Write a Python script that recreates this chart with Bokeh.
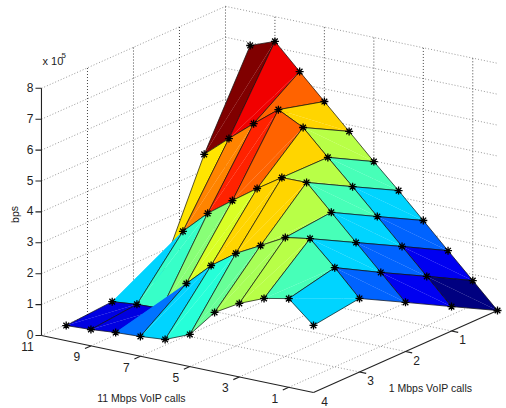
from bokeh.plotting import figure
from bokeh.models import Range1d, LinearColorMapper, ColumnDataSource
from bokeh.core.properties import value
from bokeh.transform import transform
from bokeh.embed import file_html
from bokeh.resources import INLINE

# ---- data (bps), rows = 1 Mbps calls 0..4, columns = 11 Mbps calls 0..10
CALLS_11 = [0, 1, 2, 3, 4, 5, 6, 7, 8, 9, 10]
CALLS_1 = [0, 1, 2, 3, 4]
BPS_1M_0 = [0, 80000, 160000, 241000, 321000, 398000, 479000, 559000, 639000, 720000, 690000]
BPS_1M_1 = [79000, 160000, 240000, 320000, 400000, 478000, 558000, 599000, 537000, 472000, 404000]
BPS_1M_2 = [159000, 239000, 319000, 400000, 480000, 479000, 427000, 371000, 313000, 238000, 62000]
BPS_1M_3 = [238000, 321000, 398000, 385000, 342000, 300000, 244000, 169000, 71000, 68000, 60000]
BPS_1M_4 = [217000, 287000, 271000, 238000, 192000, 104000, 71000, 64000, 60000, 53000, 49000]
BPS = [BPS_1M_0, BPS_1M_1, BPS_1M_2, BPS_1M_3, BPS_1M_4]

TICKS_11 = [11, 9, 7, 5, 3, 1]
TICKS_1 = [1, 2, 3, 4]
TICKS_Z = [0, 1, 2, 3, 4, 5, 6, 7, 8]
XLABEL = "11 Mbps VoIP calls"
YLABEL = "1 Mbps VoIP calls"
ZLABEL = "bps"

# vertices the surface folds over, so that they do not show
HIDDEN = {(10, 2), (8, 3)}


# ---- view: the fixed 3-D projection of the picture
def project(j, n, z):
    """(11 Mbps calls, 1 Mbps calls, units of 1e5 bps) -> plot coordinates"""
    return (497.0 - 24.73 * j - 46.0 * n,
            310.0 - 5.18 * j + 20.5 * n - 30.9 * z)


def jet(t):
    c = lambda v: int(round(255 * max(0.0, min(1.0, v))))
    return "#%02x%02x%02x" % (c(1.5 - abs(4 * t - 3)), c(1.5 - abs(4 * t - 2)), c(1.5 - abs(4 * t - 1)))


JET64 = [jet(i / 63) for i in range(64)]

p = figure(width=506, height=408, output_backend="svg", toolbar_location=None,
           x_range=Range1d(0, 506), y_range=Range1d(408, 0), min_border=0,
           background_fill_color="white", border_fill_color="white")
p.axis.visible = False
p.grid.visible = False
p.outline_line_color = None

DOT_SOFT = dict(line_color="#9a9a9a", line_width=1, line_dash="1 2")
DOT_DARK = dict(line_color="#444444", line_width=1, line_dash="1 2")


def seg(a, b):
    pa, pb = project(*a), project(*b)
    return [pa[0], pb[0]], [pa[1], pb[1]]


# ---- back walls and floor
xs, ys = [], []
for k in TICKS_Z:                       # levels round the two back walls
    a = seg((11, 4, k), (11, 0, k))
    b = seg((11, 0, k), (0, 0, k))
    xs += [a[0], b[0]]
    ys += [a[1], b[1]]
for n in [1, 2, 3]:                     # floor
    a = seg((0, n, 0), (11, n, 0))
    xs.append(a[0]); ys.append(a[1])
for j in [1, 3, 5, 7, 9]:
    a = seg((j, 4, 0), (j, 0, 0))
    xs.append(a[0]); ys.append(a[1])
p.multi_line(xs, ys, **DOT_SOFT)

xs, ys = [], []
for n in [0, 1, 2, 3]:                  # uprights
    a = seg((11, n, 0), (11, n, 8))
    xs.append(a[0]); ys.append(a[1])
for j in [1, 3, 5, 7, 9]:
    a = seg((j, 0, 0), (j, 0, 8))
    xs.append(a[0]); ys.append(a[1])
p.multi_line(xs, ys, **DOT_DARK)

# ---- axes
xs, ys = [], []
for a, b in [((11, 4, 0), (11, 4, 8)), ((11, 4, 0), (0, 4, 0)), ((0, 4, 0), (0, 0, 0))]:
    s = seg(a, b)
    xs.append(s[0]); ys.append(s[1])
for k in TICKS_Z:
    x, y = project(11, 4, k)
    xs.append([x - 6, x]); ys.append([y, y])
for j in TICKS_11[1:]:
    s = seg((j, 4, 0), (j, 4.13, 0))
    xs.append(s[0]); ys.append(s[1])
for n in TICKS_1[:-1]:
    s = seg((0, n, 0), (-0.27, n, 0))
    xs.append(s[0]); ys.append(s[1])
p.multi_line(xs, ys, line_color="#222222", line_width=1.1)

# ---- surface: back cells first, each split along the same diagonal
mapper = LinearColorMapper(palette=JET64, low=0, high=max(max(r) for r in BPS))


def vertex(j, n):
    return project(CALLS_11[j], CALLS_1[n], BPS[n][j] / 1e5)


for n in range(len(CALLS_1) - 1):
    for j in range(len(CALLS_11) - 2, -1, -1):
        a, b, c, d = vertex(j, n), vertex(j + 1, n), vertex(j + 1, n + 1), vertex(j, n + 1)
        tris = [[a, b, c], [a, c, d]]
        src = ColumnDataSource(dict(xs=[[q[0] for q in t] for t in tris],
                                    ys=[[q[1] for q in t] for t in tris],
                                    c=[BPS[n][j], BPS[n][j]]))
        p.patches("xs", "ys", source=src, fill_color=transform("c", mapper),
                  line_color=transform("c", mapper), line_width=0.15)
        edges = [(a, b, (j, n), (j + 1, n)), (b, c, (j + 1, n), (j + 1, n + 1)),
                 (c, d, (j + 1, n + 1), (j, n + 1)), (d, a, (j, n + 1), (j, n))]
        fold = (j, n) in {(9, 2), (7, 3)}
        keep = [e for e in edges if not (fold and (e[2] in HIDDEN or e[3] in HIDDEN))]
        p.multi_line([[e[0][0], e[1][0]] for e in keep], [[e[0][1], e[1][1]] for e in keep],
                     line_color="#101010", line_width=0.7)

# ---- markers
mx, my = [], []
for n in range(len(CALLS_1)):
    for j in range(len(CALLS_11)):
        if (j, n) not in HIDDEN:
            q = vertex(j, n)
            mx.append(q[0]); my.append(q[1])
p.scatter(mx, my, marker="asterisk", size=8, line_color="black", line_width=1.3)

# ---- texts
FONT = value("Liberation Sans")


def put(x, y, txt, size="12px", align="center", base="middle", angle=0.0):
    p.text([x], [y], text=[txt], text_font=FONT, text_font_size=size, text_color="#222222",
           text_align=align, text_baseline=base, angle=angle)


for k in TICKS_Z:
    x, y = project(11, 4, k)
    put(x - 8, y - 1, str(k), align="right")
for j in TICKS_11:
    x, y = project(j, 4, 0)
    put(x - 14, y + 11, str(j))
for n in TICKS_1:
    x, y = project(0, n, 0)
    put(x + 11, y + 8.5, str(n))

put(141, 397, XLABEL, size="10.5px")
put(430, 387, YLABEL, size="10.5px")
put(14, 214, ZLABEL, size="10.5px", angle=1.5708)
put(42, 60, "x 10", align="left", size="11px")
put(61, 55, "5", align="left", size="8px")

open("out.html", "w").write(file_html(p, INLINE))
